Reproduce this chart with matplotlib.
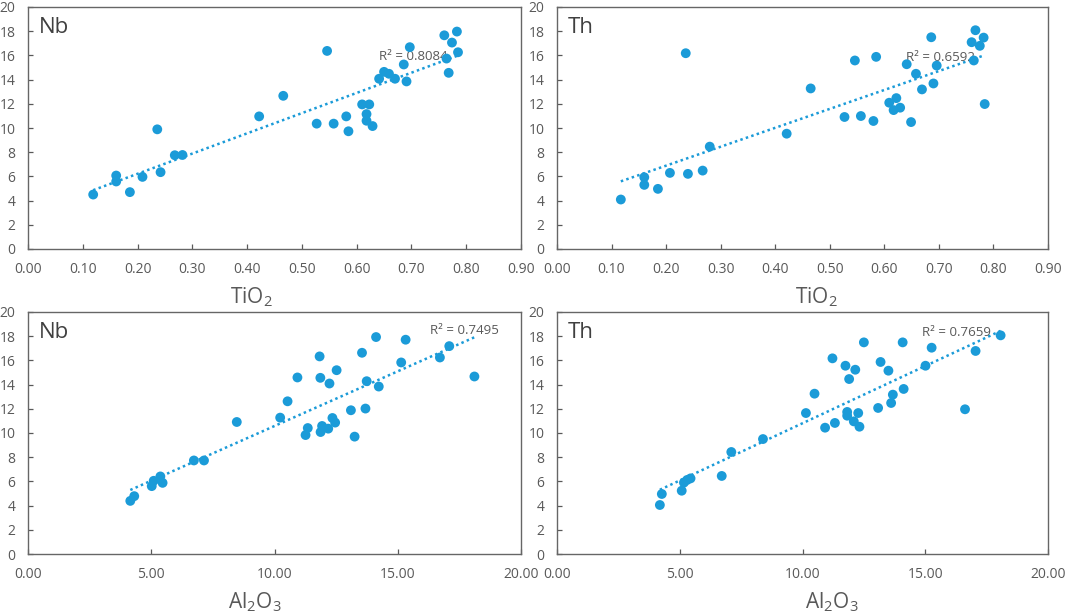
import numpy as np
import matplotlib
matplotlib.use("Agg")
import matplotlib.pyplot as plt

plt.rcParams['font.family'] = ['Open Sans', 'DejaVu Sans']
plt.rcParams['mathtext.fontset'] = 'custom'
plt.rcParams['mathtext.rm'] = 'Open Sans'
plt.rcParams['mathtext.it'] = 'Open Sans:italic'

# values
tio2_nb = [0.119, 0.161, 0.161, 0.186, 0.209, 0.236, 0.242, 0.268, 0.282, 0.422,
           0.466, 0.527, 0.546, 0.558, 0.581, 0.585, 0.610, 0.623, 0.618, 0.618,
           0.629, 0.641, 0.650, 0.659, 0.670, 0.686, 0.691, 0.697, 0.760, 0.764,
           0.768, 0.774, 0.783, 0.785]
nb_tio2 = [4.50, 6.07, 5.58, 4.70, 5.96, 9.89, 6.35, 7.75, 7.77, 10.96,
           12.66, 10.36, 16.37, 10.36, 10.96, 9.73, 11.95, 11.95, 11.15, 10.60,
           10.16, 14.07, 14.64, 14.48, 14.07, 15.25, 13.85, 16.68, 17.66, 15.74,
           14.56, 17.06, 17.97, 16.26]

tio2_th = [0.117, 0.160, 0.160, 0.185, 0.207, 0.236, 0.240, 0.267, 0.280, 0.421,
           0.465, 0.527, 0.546, 0.557, 0.580, 0.585, 0.609, 0.622, 0.617, 0.629,
           0.641, 0.649, 0.658, 0.669, 0.686, 0.690, 0.696, 0.760, 0.764, 0.767,
           0.775, 0.782, 0.784]
th_tio2 = [4.09, 5.93, 5.30, 4.97, 6.29, 16.18, 6.21, 6.48, 8.46, 9.53,
           13.27, 10.91, 15.58, 10.99, 10.58, 15.88, 12.09, 12.47, 11.48, 11.68,
           15.27, 10.49, 14.48, 13.19, 17.50, 13.68, 15.16, 17.09, 15.58, 18.08,
           16.79, 17.47, 11.98]

al2o3_nb = [4.15, 4.31, 5.02, 5.10, 5.37, 5.46, 6.73, 7.14, 8.47, 10.23,
            10.53, 10.93, 11.26, 11.35, 11.83, 11.86, 11.87, 11.93, 12.18, 12.23,
            12.35, 12.46, 12.52, 13.10, 13.25, 13.55, 13.69, 13.74, 14.12, 14.23,
            15.14, 15.32, 16.71, 17.09, 18.11]
nb_al2o3 = [4.39, 4.78, 5.61, 6.05, 6.41, 5.88, 7.73, 7.73, 10.91, 11.27,
            12.62, 14.59, 9.83, 10.41, 16.33, 14.56, 10.08, 10.58, 10.36, 14.09,
            11.24, 10.86, 15.19, 11.88, 9.70, 16.63, 12.02, 14.28, 17.93, 13.84,
            15.83, 17.71, 16.24, 17.18, 14.67]

al2o3_th = [4.19, 4.27, 5.08, 5.17, 5.30, 5.44, 6.71, 7.10, 8.39, 10.14,
            10.49, 10.92, 11.22, 11.32, 11.75, 11.82, 11.82, 11.90, 12.09, 12.15,
            12.27, 12.32, 12.50, 13.08, 13.18, 13.50, 13.61, 13.68, 14.08, 14.12,
            15.01, 15.26, 16.62, 17.05, 18.07]
th_al2o3 = [4.05, 4.96, 5.23, 5.90, 6.12, 6.25, 6.45, 8.43, 9.50, 11.65,
            13.25, 10.44, 16.17, 10.83, 15.56, 11.74, 11.43, 14.46, 10.96, 15.23,
            11.65, 10.52, 17.49, 12.07, 15.87, 15.15, 12.48, 13.17, 17.49, 13.64,
            15.56, 17.05, 11.96, 16.78, 18.07]

r2_labels = ["R² = 0.8084", "R² = 0.6592", "R² = 0.7495", "R² = 0.7659"]
elements = ["Nb", "Th", "Nb", "Th"]
xlabels = ["TiO$_2$", "TiO$_2$", "Al$_2$O$_3$", "Al$_2$O$_3$"]

blue = '#1b9bd8'
gray = '#595959'

fig = plt.figure(figsize=(10.65, 6.15), dpi=100)

W, H = 1065.0, 615.0
# (left, top, right, bottom) in pixels
boxes = [(28, 7, 521, 249), (557, 7, 1048, 249),
         (28, 312, 521, 554), (557, 312, 1048, 554)]
panels = [(tio2_nb, nb_tio2), (tio2_th, th_tio2),
          (al2o3_nb, nb_al2o3), (al2o3_th, th_al2o3)]
xlims = [0.9, 0.9, 20, 20]
xsteps = [0.1, 0.1, 5, 5]
r2_pos = [(0.64, 15.9), (0.64, 15.8), (16.3, 18.5), (14.87, 18.3)]
xlabel_x = [0.454, 0.529, 0.46, 0.56]

for i, (box, (xv, yv)) in enumerate(zip(boxes, panels)):
    l, t, r, b = box
    ax = fig.add_axes([l / W, 1 - b / H, (r - l) / W, (b - t) / H])
    xv = np.array(xv)
    yv = np.array(yv)
    ax.scatter(xv, yv, s=50, color=blue, edgecolors='none', zorder=3)

    k, c = np.polyfit(xv, yv, 1)
    xx = np.array([xv.min(), xv.max()])
    ax.plot(xx, k * xx + c, color=blue, lw=1.8, ls=(0, (1, 1.3)), zorder=2)

    ax.text(r2_pos[i][0], r2_pos[i][1], r2_labels[i], fontsize=9.5, color=gray,
            va='center', ha='left', zorder=2.5)
    ax.text(0.022, 0.915, elements[i], transform=ax.transAxes, fontsize=16,
            color='#404040', va='center', ha='left')

    ax.set_xlim(0, xlims[i])
    ax.set_ylim(0, 20)
    ax.set_xticks(np.arange(0, xlims[i] + 1e-9, xsteps[i]))
    ax.set_yticks(np.arange(0, 21, 2))
    ax.xaxis.set_major_formatter(matplotlib.ticker.FormatStrFormatter('%.2f'))
    ax.tick_params(direction='in', length=3.6, width=0.9, color=gray,
                   labelcolor=gray, labelsize=10)
    ax.tick_params(axis='y', pad=9.0)
    ax.tick_params(axis='x', pad=9.5)
    for sp in ax.spines.values():
        sp.set_color('#666666')
        sp.set_linewidth(1.0)

    ax.set_xlabel(xlabels[i], fontsize=15, color=gray)
    ax.xaxis.set_label_coords(xlabel_x[i], -0.15)

fig.savefig("out.png", dpi=100)
